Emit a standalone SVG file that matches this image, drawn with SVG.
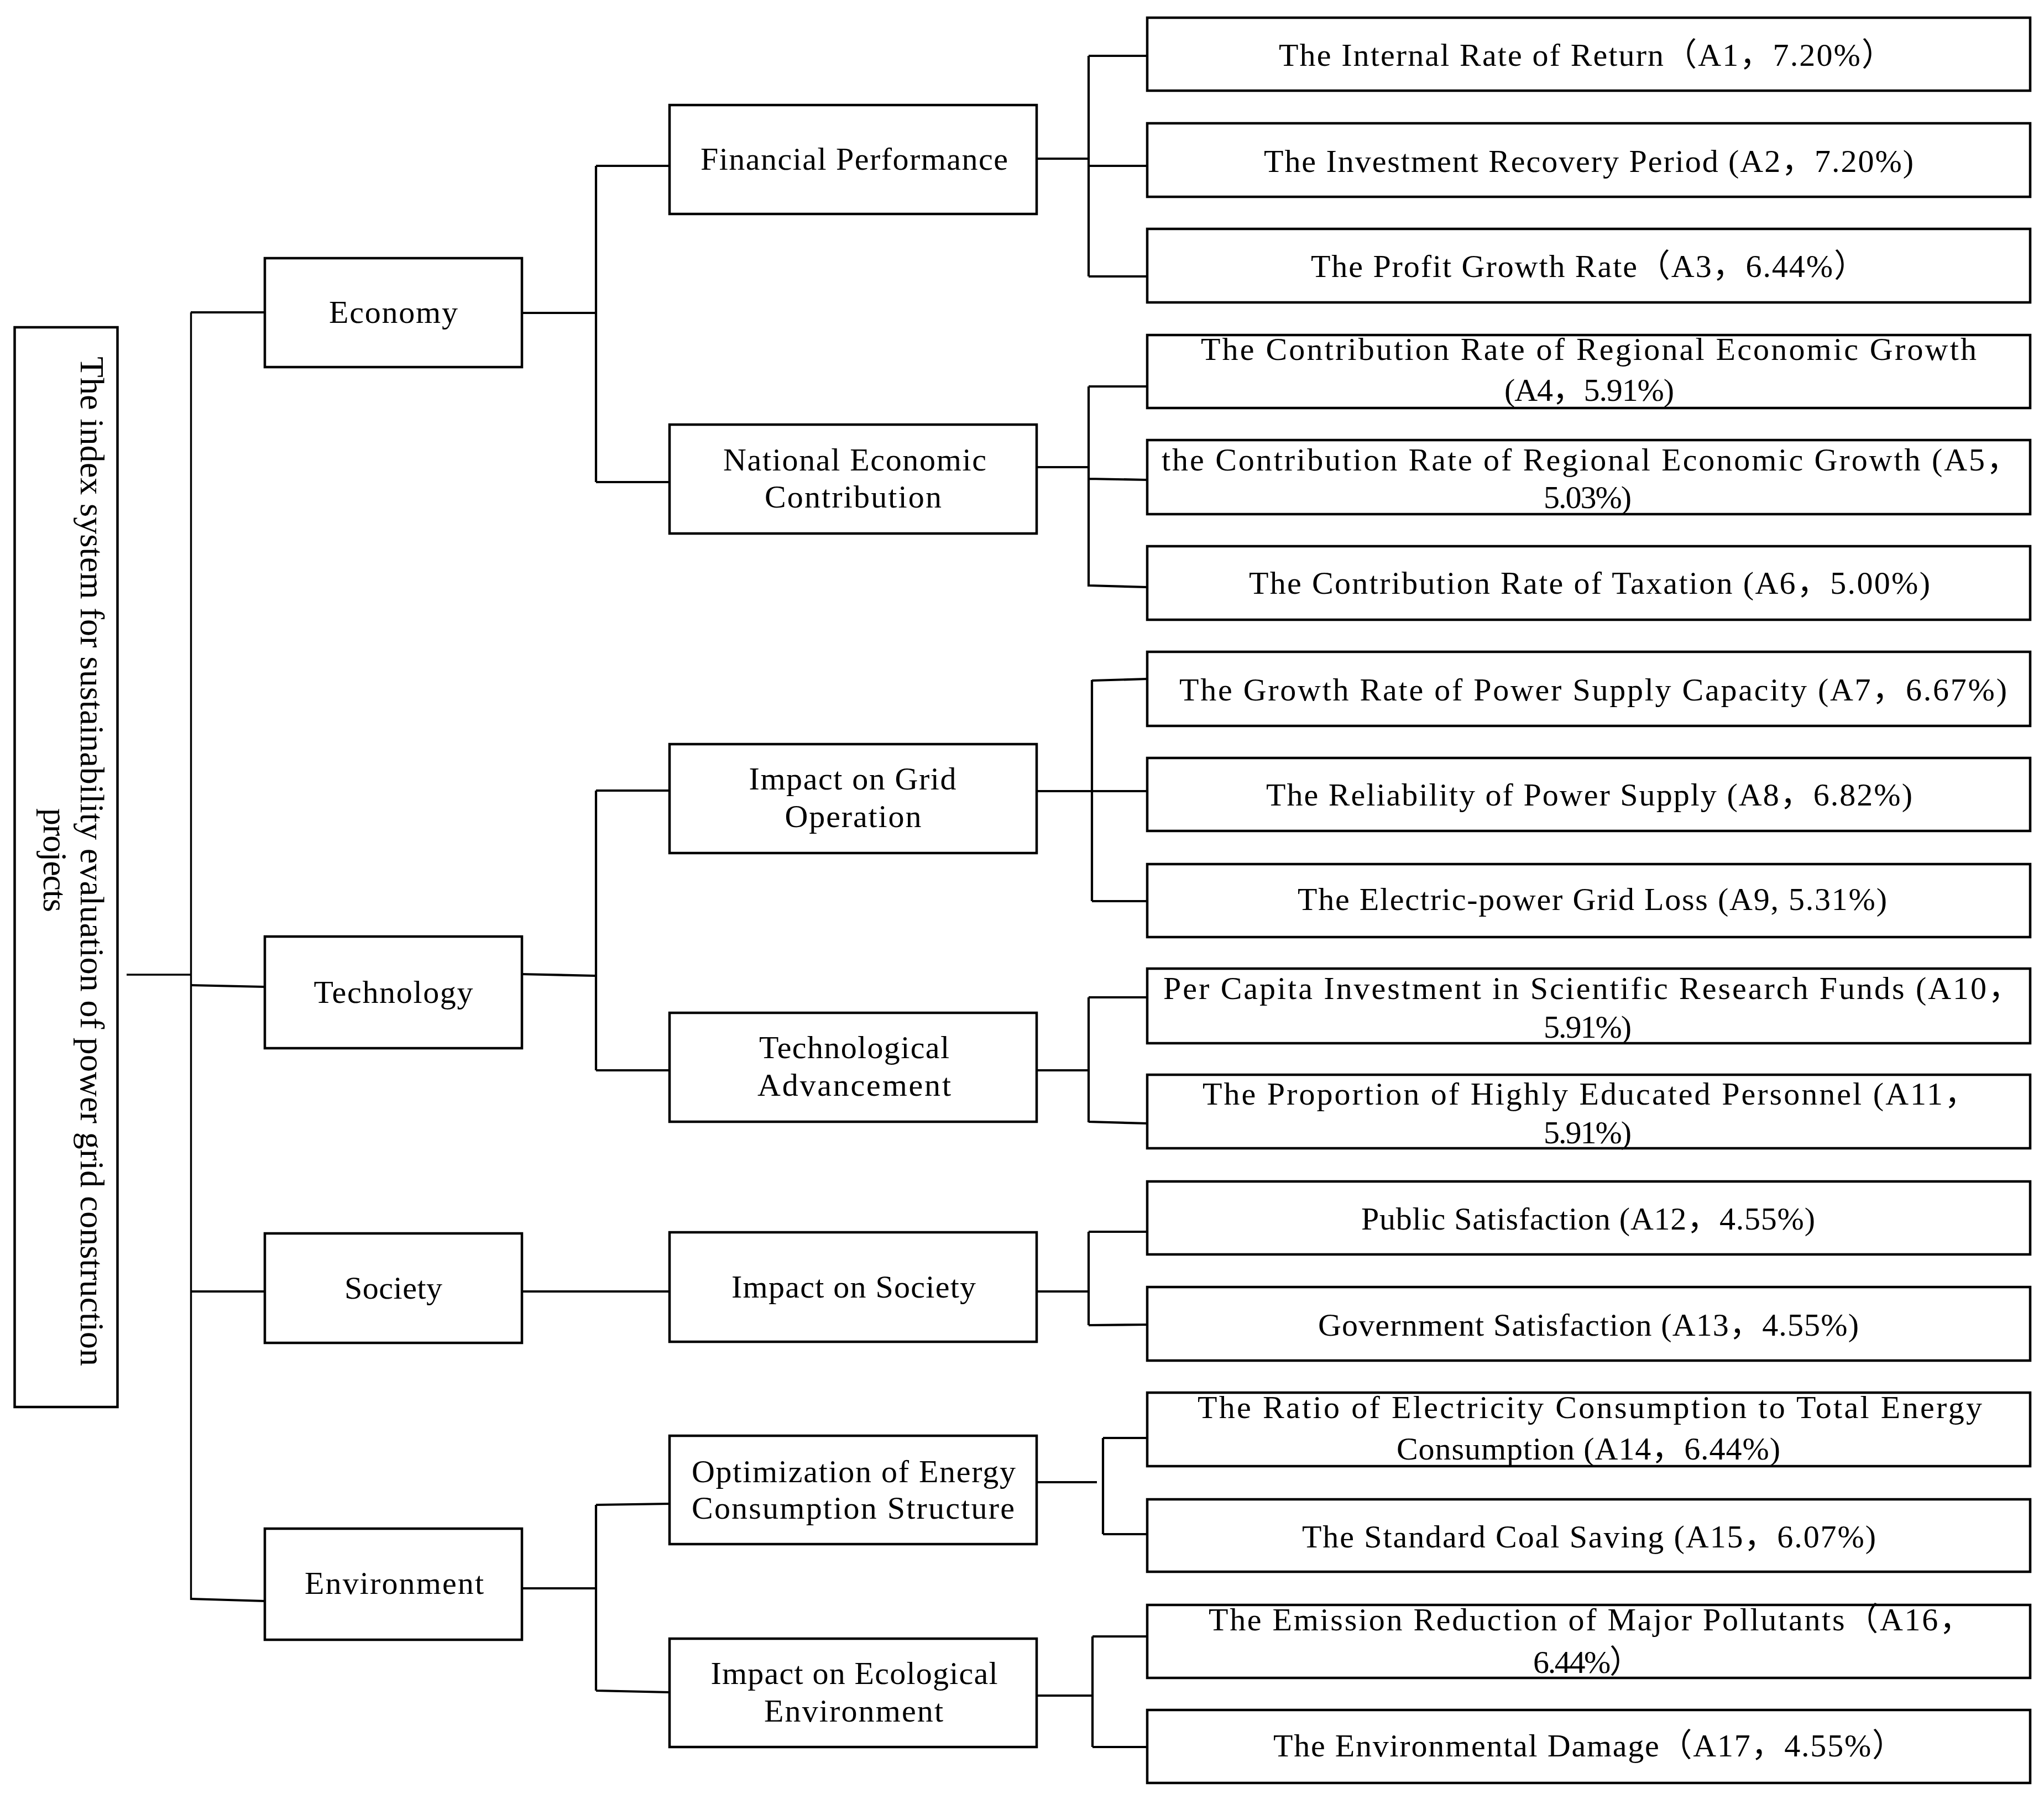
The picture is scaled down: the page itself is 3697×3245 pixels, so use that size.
<svg xmlns="http://www.w3.org/2000/svg" width="3697" height="3245" viewBox="0 0 3697 3245">
<style>
.box{fill:#fff;stroke:#000;stroke-width:4.5}
.ln{stroke:#000;stroke-width:4.2;fill:none;stroke-linecap:butt}
.thin{stroke:#000;stroke-width:3.4;fill:none}
.t{font-family:"Liberation Serif","Noto Sans CJK SC",serif;font-size:58px;fill:#000}
.c{text-anchor:middle}
.r{font-size:62px}
</style>
<rect width="3697" height="3245" fill="#fff"/>
<g id="connectors">
<path class="thin" d="M229,1763H345.5M345.5,565V2894"/>
<path class="ln" d="M345,565H479M345,1782L479,1785M345,2336H479M345,2892L479,2896"/>
<path class="ln" d="M944,566H1078M1078,300V872M1078,300H1211M1078,872H1211"/>
<path class="ln" d="M944,1762L1078,1765M1078,1430V1936M1078,1430H1211M1078,1936H1211"/>
<path class="ln" d="M944,2336H1211"/>
<path class="ln" d="M944,2873H1078M1078,2722V3058M1078,2722L1211,2720M1078,3058L1211,3061"/>
<path class="ln" d="M1875,287H1970M1969,101V500M1969,101H2075M1969,300H2075M1969,500H2075"/>
<path class="ln" d="M1875,845H1970M1969,699V1061M1969,699H2075M1969,866L2075,868M1969,1059L2075,1062"/>
<path class="ln" d="M1875,1431H1976M1975,1230V1630M1975,1231L2075,1228M1975,1431H2075M1975,1630H2075"/>
<path class="ln" d="M1875,1936H1970M1969,1804V2030M1969,1804H2075M1969,2029L2075,2032"/>
<path class="ln" d="M1875,2336H1970M1969,2228V2397M1969,2228H2075M1969,2397L2075,2396"/>
<path class="ln" d="M1875,2681H1984M1995,2601V2775M1995,2601H2075M1995,2775H2075"/>
<path class="ln" d="M1875,3067H1977M1976,2960V3160M1976,2960H2075M1976,3160H2075"/>
</g>
<g id="root">
<rect class="box" x="26.5" y="592" width="186" height="1953"/>
<text class="t r c" transform="translate(146,1558) rotate(90)" textLength="1826" lengthAdjust="spacing">The index system for sustainability evaluation of power grid construction</text>
<text class="t r c" transform="translate(79,1556) rotate(90)" textLength="188" lengthAdjust="spacing">projects</text>
</g>
<g id="economy"><rect class="box" x="479" y="467" width="465" height="197"/><text class="t c" x="711.5" y="584" textLength="233" lengthAdjust="spacing">Economy</text></g>
<g id="technology"><rect class="box" x="479" y="1694" width="465" height="202"/><text class="t c" x="711.5" y="1814" textLength="288" lengthAdjust="spacing">Technology</text></g>
<g id="society"><rect class="box" x="479" y="2231" width="465" height="198"/><text class="t c" x="711.5" y="2349" textLength="177" lengthAdjust="spacing">Society</text></g>
<g id="environment"><rect class="box" x="479" y="2765" width="465" height="201"/><text class="t c" x="713" y="2883" textLength="324" lengthAdjust="spacing">Environment</text></g>
<g id="financial"><rect class="box" x="1211" y="190" width="664" height="197"/><text class="t c" x="1545" y="307" textLength="556" lengthAdjust="spacing">Financial Performance</text></g>
<g id="national"><rect class="box" x="1211" y="768" width="664" height="197"/><text class="t c" x="1546" y="851" textLength="476" lengthAdjust="spacing">National Economic</text><text class="t c" x="1543" y="918" textLength="320" lengthAdjust="spacing">Contribution</text></g>
<g id="grid"><rect class="box" x="1211" y="1346" width="664" height="197"/><text class="t c" x="1542" y="1428" textLength="375" lengthAdjust="spacing">Impact on Grid</text><text class="t c" x="1543" y="1496" textLength="247" lengthAdjust="spacing">Operation</text></g>
<g id="techadv"><rect class="box" x="1211" y="1832" width="664" height="197"/><text class="t c" x="1545" y="1914" textLength="344" lengthAdjust="spacing">Technological</text><text class="t c" x="1545" y="1982" textLength="350" lengthAdjust="spacing">Advancement</text></g>
<g id="impsociety"><rect class="box" x="1211" y="2229" width="664" height="198"/><text class="t c" x="1544" y="2347" textLength="442" lengthAdjust="spacing">Impact on Society</text></g>
<g id="optimization"><rect class="box" x="1211" y="2597" width="664" height="196"/><text class="t c" x="1544" y="2681" textLength="586" lengthAdjust="spacing">Optimization of Energy</text><text class="t c" x="1543" y="2747" textLength="584" lengthAdjust="spacing">Consumption Structure</text></g>
<g id="ecological"><rect class="box" x="1211" y="2964" width="664" height="196"/><text class="t c" x="1545" y="3046" textLength="519" lengthAdjust="spacing">Impact on Ecological</text><text class="t c" x="1544" y="3114" textLength="324" lengthAdjust="spacing">Environment</text></g>
<g id="A1"><rect class="box" x="2075" y="32" width="1597" height="132"/><text class="t" x="2313" y="119" textLength="1112" lengthAdjust="spacing">The Internal Rate of Return（A1，7.20%）</text></g>
<g id="A2"><rect class="box" x="2075" y="223" width="1597" height="133"/><text class="t" x="2286" y="311" textLength="1175" lengthAdjust="spacing">The Investment Recovery Period (A2，7.20%)</text></g>
<g id="A3"><rect class="box" x="2075" y="414" width="1597" height="133"/><text class="t" x="2371" y="501" textLength="1004" lengthAdjust="spacing">The Profit Growth Rate（A3，6.44%）</text></g>
<g id="A4"><rect class="box" x="2075" y="606" width="1597" height="132"/><text class="t" x="2172" y="651" textLength="1403" lengthAdjust="spacing">The Contribution Rate of Regional Economic Growth</text><text class="t" x="2721" y="725" textLength="307" lengthAdjust="spacing">(A4，5.91%)</text></g>
<g id="A5"><rect class="box" x="2075" y="796" width="1597" height="134"/><text class="t" x="2101" y="851" textLength="1550" lengthAdjust="spacing">the Contribution Rate of Regional Economic Growth (A5，</text><text class="t" x="2792" y="919" textLength="159" lengthAdjust="spacing">5.03%)</text></g>
<g id="A6"><rect class="box" x="2075" y="988" width="1597" height="133"/><text class="t" x="2259" y="1074" textLength="1232" lengthAdjust="spacing">The Contribution Rate of Taxation (A6，5.00%)</text></g>
<g id="A7"><rect class="box" x="2075" y="1179" width="1597" height="134"/><text class="t" x="2133" y="1267" textLength="1497" lengthAdjust="spacing">The Growth Rate of Power Supply Capacity (A7，6.67%)</text></g>
<g id="A8"><rect class="box" x="2075" y="1371" width="1597" height="132"/><text class="t" x="2290" y="1457" textLength="1169" lengthAdjust="spacing">The Reliability of Power Supply (A8，6.82%)</text></g>
<g id="A9"><rect class="box" x="2075" y="1563" width="1597" height="132"/><text class="t" x="2347" y="1646" textLength="1066" lengthAdjust="spacing">The Electric-power Grid Loss (A9, 5.31%)</text></g>
<g id="A10"><rect class="box" x="2075" y="1752" width="1597" height="135"/><text class="t" x="2104" y="1807" textLength="1550" lengthAdjust="spacing">Per Capita Investment in Scientific Research Funds (A10，</text><text class="t" x="2792" y="1877" textLength="159" lengthAdjust="spacing">5.91%)</text></g>
<g id="A11"><rect class="box" x="2075" y="1944" width="1597" height="133"/><text class="t" x="2175" y="1998" textLength="1400" lengthAdjust="spacing">The Proportion of Highly Educated Personnel (A11，</text><text class="t" x="2792" y="2068" textLength="159" lengthAdjust="spacing">5.91%)</text></g>
<g id="A12"><rect class="box" x="2075" y="2137" width="1597" height="132"/><text class="t" x="2462" y="2224" textLength="821" lengthAdjust="spacing">Public Satisfaction (A12，4.55%)</text></g>
<g id="A13"><rect class="box" x="2075" y="2328" width="1597" height="133"/><text class="t" x="2384" y="2416" textLength="978" lengthAdjust="spacing">Government Satisfaction (A13，4.55%)</text></g>
<g id="A14"><rect class="box" x="2075" y="2519" width="1597" height="133"/><text class="t" x="2166" y="2565" textLength="1419" lengthAdjust="spacing">The Ratio of Electricity Consumption to Total Energy</text><text class="t" x="2526" y="2640" textLength="694" lengthAdjust="spacing">Consumption (A14，6.44%)</text></g>
<g id="A15"><rect class="box" x="2075" y="2712" width="1597" height="131"/><text class="t" x="2355" y="2799" textLength="1038" lengthAdjust="spacing">The Standard Coal Saving (A15，6.07%)</text></g>
<g id="A16"><rect class="box" x="2075" y="2903" width="1597" height="132"/><text class="t" x="2186" y="2949" textLength="1380" lengthAdjust="spacing">The Emission Reduction of Major Pollutants（A16，</text><text class="t" x="2773" y="3026" textLength="196" lengthAdjust="spacing">6.44%）</text></g>
<g id="A17"><rect class="box" x="2075" y="3093" width="1597" height="132"/><text class="t" x="2303" y="3177" textLength="1141" lengthAdjust="spacing">The Environmental Damage（A17，4.55%）</text></g>
</svg>
